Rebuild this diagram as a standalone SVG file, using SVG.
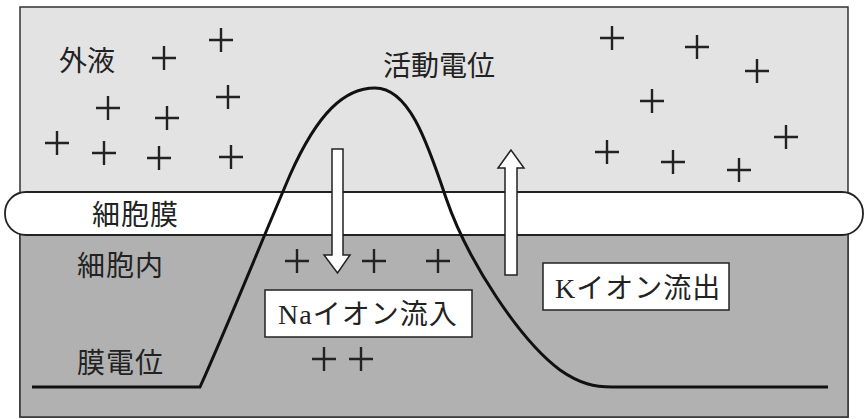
<svg xmlns="http://www.w3.org/2000/svg" width="865" height="419" viewBox="0 0 865 419">
<style>
.lbl{font-family:"Liberation Serif","Noto Sans CJK JP",serif;font-size:28px;fill:#222}
.plus{stroke:#222;stroke-width:2.4;fill:none}
.box{fill:#fff;stroke:#222;stroke-width:1.5}
.arrow{fill:#fff;stroke:#222;stroke-width:1.5;stroke-linejoin:miter}
</style>
<defs>
<path id="p" d="M-12,0H12M0,-12V12"/>
</defs>
<rect width="865" height="419" fill="#fff"/>
<g id="outer">
<rect x="20" y="7" width="828" height="410" fill="#e3e3e3" stroke="#333" stroke-width="1.5"/>
<rect x="20" y="213" width="828" height="204" fill="#b1b1b1" stroke="#333" stroke-width="1.5"/>
</g>
<g id="membrane">
<rect x="5" y="192" width="858" height="43" rx="21" ry="21" fill="#fff" stroke="#222" stroke-width="1.8"/>
<text class="lbl" x="92" y="225" letter-spacing="1">細胞膜</text>
</g>
<g id="outer-plus">
<use href="#p" class="plus" x="164" y="58"/>
<use href="#p" class="plus" x="221" y="40"/>
<use href="#p" class="plus" x="108" y="108"/>
<use href="#p" class="plus" x="228" y="97"/>
<use href="#p" class="plus" x="167" y="118"/>
<use href="#p" class="plus" x="57" y="143"/>
<use href="#p" class="plus" x="104" y="153"/>
<use href="#p" class="plus" x="159" y="158"/>
<use href="#p" class="plus" x="231" y="157"/>
<use href="#p" class="plus" x="612" y="38"/>
<use href="#p" class="plus" x="697" y="47"/>
<use href="#p" class="plus" x="757" y="71"/>
<use href="#p" class="plus" x="652" y="101"/>
<use href="#p" class="plus" x="786" y="137"/>
<use href="#p" class="plus" x="607" y="152"/>
<use href="#p" class="plus" x="673" y="162"/>
<use href="#p" class="plus" x="739" y="170"/>
</g>
<g id="inner-plus">
<use href="#p" class="plus" x="297" y="261"/>
<use href="#p" class="plus" x="374" y="261"/>
<use href="#p" class="plus" x="438" y="261"/>
<use href="#p" class="plus" x="324" y="359"/>
<use href="#p" class="plus" x="361" y="359"/>
</g>
<g id="labels">
<text class="lbl" x="59" y="71">外液</text>
<text class="lbl" x="383" y="76">活動電位</text>
<text class="lbl" x="77" y="276" letter-spacing="1">細胞内</text>
<text class="lbl" x="77" y="373" letter-spacing="1">膜電位</text>
</g>
<g id="curve">
<path d="M32,387 L200,387 C230,320 260,245 290,175 C318,112 345,88 375,88 C408,88 426,138 446,198 C468,262 520,340 560,370 C580,384 595,387 612,387 L828,387" fill="none" stroke="#111" stroke-width="3"/>
</g>
<g id="connectors">
<path id="na-arrow" class="arrow" d="M332,149 H343 V255 H350 L337.5,273 L324,255 H332 Z"/>
<path id="k-arrow" class="arrow" d="M505,275 H517 V168 H524 L511,150 L498,168 H505 Z"/>
</g>
<g id="na-box">
<rect class="box" x="265" y="290" width="207" height="47"/>
<text class="lbl" x="278" y="324" letter-spacing="1">Naイオン流入</text>
</g>
<g id="k-box">
<rect class="box" x="543" y="263" width="186" height="47"/>
<text class="lbl" x="555" y="298" letter-spacing="1">Kイオン流出</text>
</g>
</svg>
